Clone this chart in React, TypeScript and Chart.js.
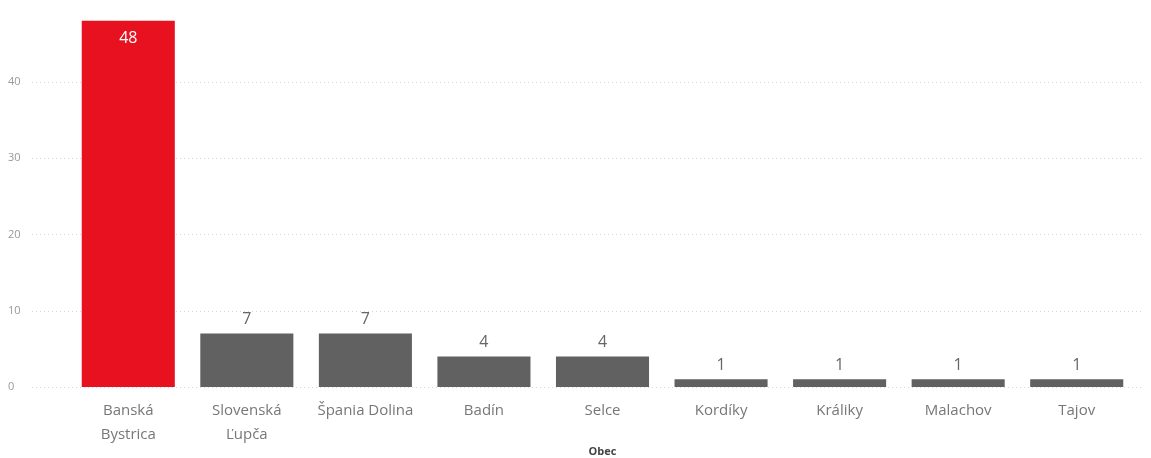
import React, { useEffect, useRef } from "react";
import { Chart, registerables } from "chart.js";

Chart.register(...registerables);

const categories: (string | string[])[] = [
  ["Banská", "Bystrica"],
  ["Slovenská", "Ľupča"],
  "Špania Dolina",
  "Badín",
  "Selce",
  "Kordíky",
  "Králiky",
  "Malachov",
  "Tajov",
];
const values: number[] = [48, 7, 7, 4, 4, 1, 1, 1, 1];
const barColors: string[] = ["#E8111F", "#616161", "#616161", "#616161", "#616161", "#616161", "#616161", "#616161", "#616161"];
const yTicks: number[] = [0, 10, 20, 30, 40];
const axisTitle = "Obec";

const FONT = "'Open Sans', 'Noto Sans', sans-serif";

const gridPlugin = {
  id: "extGrid",
  beforeDatasetsDraw(chart: any) {
    const { ctx } = chart;
    const y = chart.scales.y;
    ctx.save();
    ctx.strokeStyle = "#d6d6d6";
    ctx.lineWidth = 1;
    ctx.setLineDash([1, 3]);
    yTicks.forEach((t) => {
      const py = Math.round(y.getPixelForValue(t)) + 0.5;
      ctx.beginPath();
      ctx.moveTo(32, py);
      ctx.lineTo(1142, py);
      ctx.stroke();
    });
    ctx.restore();
  },
};

const labelPlugin = {
  id: "valLabels",
  afterDatasetsDraw(chart: any) {
    const { ctx, chartArea } = chart;
    const meta = chart.getDatasetMeta(0);
    ctx.save();
    ctx.font = `16px ${FONT}`;
    ctx.textAlign = "center";
    ctx.textBaseline = "middle";
    meta.data.forEach((bar: any, i: number) => {
      const v = values[i];
      if (bar.y - 24 < chartArea.top) {
        ctx.fillStyle = "#ffffff";
        ctx.fillText(String(v), bar.x, bar.y + 18);
      } else {
        ctx.fillStyle = "#666666";
        ctx.fillText(String(v), bar.x, bar.y - 14);
      }
    });
    ctx.restore();
  },
};

export default function App() {
  const ref = useRef<HTMLCanvasElement>(null);
  useEffect(() => {
    document.body.style.margin = "0";
    const chart = new Chart(ref.current!, {
      type: "bar",
      data: {
        labels: categories,
        datasets: [
          {
            data: values,
            backgroundColor: barColors,
            categoryPercentage: 1,
            barPercentage: 0.785,
          },
        ],
      },
      options: {
        animation: false,
        responsive: false,
        layout: { padding: { top: 0, right: 15, left: 8, bottom: 0 } },
        plugins: { legend: { display: false }, tooltip: { enabled: false } },
        scales: {
          x: {
            grid: { display: false, drawTicks: false },
            border: { display: false },
            ticks: {
              color: "#777777",
              font: { family: FONT, size: 15, lineHeight: 1.6 },
              padding: 12,
              maxRotation: 0,
              autoSkip: false,
            },
            title: {
              display: true,
              text: axisTitle,
              color: "#444444",
              font: { family: FONT, size: 11, weight: "bold" },
              padding: { top: 0, bottom: 0 },
            },
            afterFit: (s: any) => {
              s.height = 71;
            },
          },
          y: {
            min: 0,
            max: 50,
            grid: { display: false, drawTicks: false },
            border: { display: false },
            afterBuildTicks: (s: any) => {
              s.ticks = yTicks.map((v) => ({ value: v }));
            },
            ticks: {
              color: "#999999",
              font: { family: FONT, size: 11, lineHeight: 1 },
              padding: 0,
              crossAlign: "far",
            },
            afterFit: (s: any) => {
              s.width = 61;
            },
          },
        },
      },
      plugins: [gridPlugin, labelPlugin],
    });
    return () => chart.destroy();
  }, []);
  return <canvas ref={ref} width={1151} height={458} style={{ display: "block" }} />;
}
